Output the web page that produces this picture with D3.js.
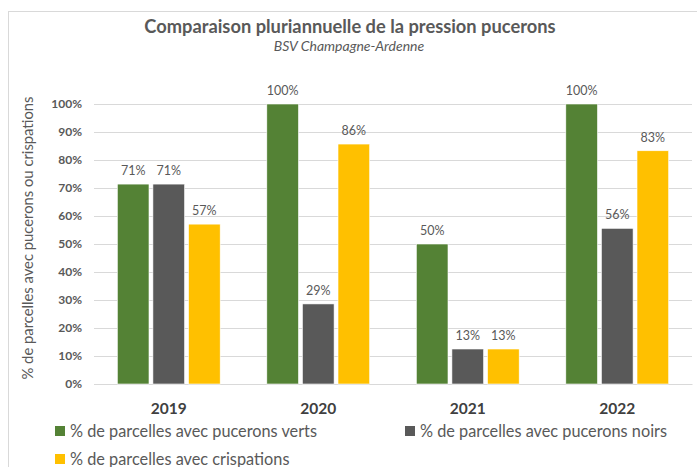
<!DOCTYPE html>
<html>
<head>
<meta charset="utf-8">
<title>Comparaison pluriannuelle de la pression pucerons</title>
<script src="https://d3js.org/d3.v7.min.js"></script>
<style>
  body { margin: 0; background: #fff; }
  text { font-family: Lato, "Open Sans", sans-serif; fill: #595959; }
</style>
</head>
<body>
<svg width="697" height="467"></svg>
<script>
// donnees
var annees = ["2019", "2020", "2021", "2022"];
var series = ["verts", "noirs", "crispations"];
var legendes = ["% de parcelles avec pucerons verts", "% de parcelles avec pucerons noirs", "% de parcelles avec crispations"];
var verts = [71.4, 100, 50, 100];
var noirs = [71.4, 28.6, 12.5, 55.6];
var crispations = [57.1, 85.7, 12.5, 83.3];
var yTicks = [0, 10, 20, 30, 40, 50, 60, 70, 80, 90, 100];
var couleurs = ["#548235", "#595959", "#ffc000"];

var valeurs = { verts: verts, noirs: noirs, crispations: crispations };

var svg = d3.select("svg");
var margin = { left: 94, right: 5, top: 104, bottom: 83 };

// cadre du graphique
svg.append("rect").attr("x", 8.5).attr("y", 11.5).attr("width", 700).attr("height", 470)
    .attr("fill", "none").attr("stroke", "#d9d9d9");

var x0 = d3.scaleBand().domain(annees).range([margin.left, 692])
    .paddingInner(0.312).paddingOuter(0.156);
var x1 = d3.scaleBand().domain(series).range([0, x0.bandwidth()])
    .paddingInner(0.11);
var y = d3.scaleLinear().domain([0, 100]).range([384, 104]);
var color = d3.scaleOrdinal().domain(series).range(couleurs);

// grille
svg.append("g").selectAll("line").data(yTicks).enter().append("line")
    .attr("x1", margin.left).attr("x2", 692)
    .attr("y1", function(d) { return Math.round(y(d)) + 0.5; })
    .attr("y2", function(d) { return Math.round(y(d)) + 0.5; })
    .attr("stroke", "#d9d9d9").attr("stroke-width", 1);

// axe y
var yAxis = svg.append("g").attr("transform", "translate(" + margin.left + ",0)")
    .call(d3.axisLeft(y).tickValues(yTicks).tickSize(0).tickPadding(12)
        .tickFormat(function(d) { return d + "%"; }));
yAxis.select(".domain").remove();
yAxis.selectAll("text").attr("font-size", 12).attr("font-weight", "bold")
    .attr("font-family", "Lato, sans-serif").style("fill", "#595959");

// axe x
var xAxis = svg.append("g").attr("transform", "translate(0,384)")
    .call(d3.axisBottom(x0).tickSize(0).tickPadding(19));
xAxis.select(".domain").attr("stroke", "#d9d9d9");
xAxis.selectAll("text").attr("font-size", 15.5).attr("font-weight", "bold")
    .attr("font-family", "Lato, sans-serif").style("fill", "#404040");

// barres
var groupes = svg.append("g").selectAll("g").data(annees).enter().append("g")
    .attr("transform", function(d) { return "translate(" + x0(d) + ",0)"; });

var barres = groupes.selectAll("g").data(function(d, i) {
        return series.map(function(s) { return { serie: s, valeur: valeurs[s][i] }; });
    }).enter();

barres.append("rect")
    .attr("x", function(d) { return x1(d.serie); })
    .attr("y", function(d) { return y(d.valeur); })
    .attr("width", x1.bandwidth())
    .attr("height", function(d) { return 384 - y(d.valeur); })
    .attr("fill", function(d) { return color(d.serie); })
    .attr("stroke", "#fff").attr("stroke-width", 0.6);

barres.append("text")
    .attr("x", function(d) { return x1(d.serie) + x1.bandwidth() / 2; })
    .attr("y", function(d) { return y(d.valeur) - 9; })
    .attr("text-anchor", "middle").attr("font-size", 12.5)
    .text(function(d) { return Math.round(d.valeur) + "%"; });

// titres
svg.append("text").attr("x", 350).attr("y", 33).attr("text-anchor", "middle")
    .attr("font-size", 18.3).attr("font-weight", "bold")
    .text("Comparaison pluriannuelle de la pression pucerons");
svg.append("text").attr("x", 349).attr("y", 51).attr("text-anchor", "middle")
    .attr("font-size", 14).attr("font-style", "italic")
    .text("BSV Champagne-Ardenne");

svg.append("text").attr("transform", "translate(33,238) rotate(-90)")
    .attr("text-anchor", "middle").attr("font-size", 14.8)
    .text("% de parcelles avec pucerons ou crispations");

// legende
var posLegende = [[55, 426], [405, 426], [55, 454]];
var legende = svg.append("g").selectAll("g").data(series).enter().append("g")
    .attr("transform", function(d, i) { return "translate(" + posLegende[i][0] + "," + posLegende[i][1] + ")"; });
legende.append("rect").attr("width", 10).attr("height", 10)
    .attr("fill", function(d) { return color(d); });
legende.append("text").attr("x", 15).attr("y", 11).attr("font-size", 16.3)
    .text(function(d, i) { return legendes[i]; });
</script>
</body>
</html>
